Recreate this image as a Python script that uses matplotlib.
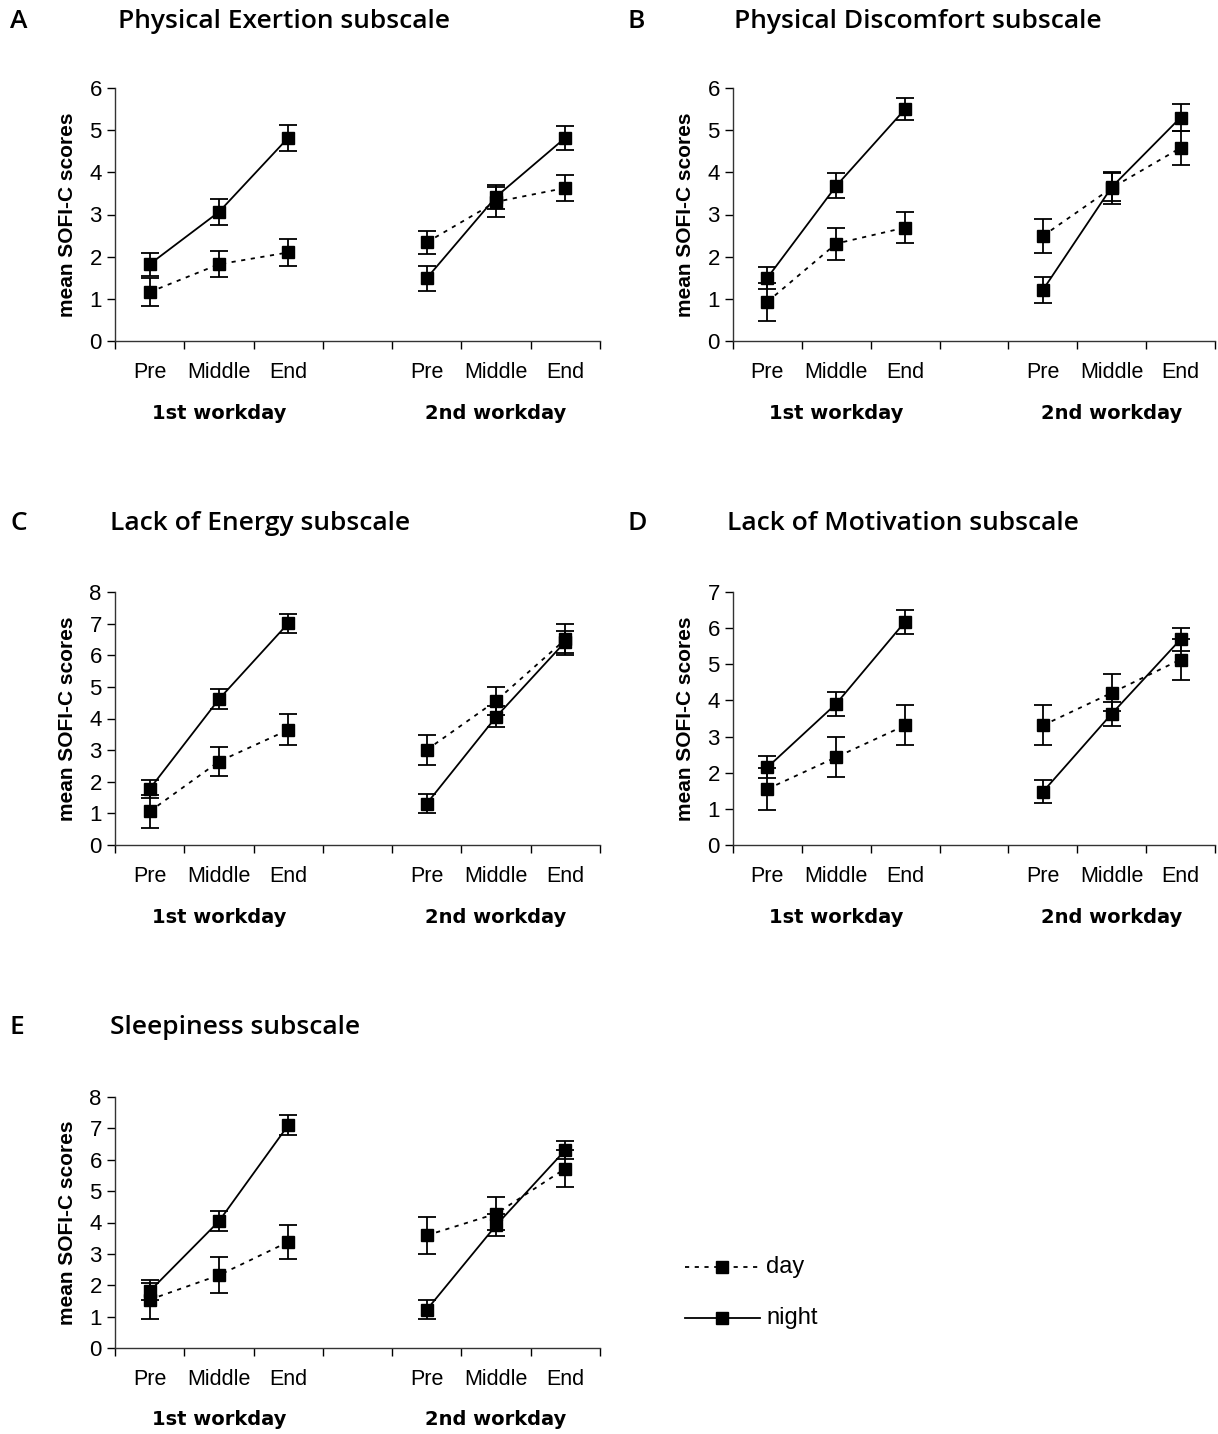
import numpy as np
import matplotlib
matplotlib.use("Agg")
import matplotlib.pyplot as plt

plt.rcParams['font.family'] = ['Liberation Sans Narrow', 'Liberation Sans', 'DejaVu Sans']
plt.rcParams['lines.scale_dashes'] = False

# x slots: 1st workday 0-2, gap, 2nd workday 4-6
x1 = [0.5, 1.5, 2.5]
x2 = [4.5, 5.5, 6.5]
tick_labels = ['Pre', 'Middle', 'End', 'Pre', 'Middle', 'End']
day_labels = ['1st workday', '2nd workday']

letters = ['A', 'B', 'C', 'D', 'E']
titles = ['Physical Exertion subscale', 'Physical Discomfort subscale',
          'Lack of Energy subscale', 'Lack of Motivation subscale',
          'Sleepiness subscale']
ymax = [6, 6, 8, 7, 8]

# means (1st Pre, Mid, End, 2nd Pre, Mid, End) and error bars
night = [
    [1.82, 3.06, 4.82, 1.49, 3.42, 4.82],
    [1.50, 3.68, 5.50, 1.21, 3.65, 5.30],
    [1.77, 4.61, 7.01, 1.31, 4.05, 6.43],
    [2.15, 3.91, 6.18, 1.47, 3.63, 5.69],
    [1.81, 4.04, 7.10, 1.22, 3.91, 6.31],
]
night_err = [
    [0.27, 0.31, 0.31, 0.30, 0.28, 0.28],
    [0.26, 0.30, 0.27, 0.30, 0.33, 0.32],
    [0.27, 0.32, 0.31, 0.31, 0.33, 0.35],
    [0.30, 0.33, 0.33, 0.32, 0.34, 0.31],
    [0.27, 0.32, 0.32, 0.30, 0.35, 0.29],
]
day = [
    [1.16, 1.82, 2.10, 2.34, 3.30, 3.63],
    [0.93, 2.31, 2.69, 2.49, 3.63, 4.58],
    [1.06, 2.64, 3.64, 3.01, 4.56, 6.50],
    [1.55, 2.43, 3.31, 3.31, 4.21, 5.13],
    [1.54, 2.32, 3.38, 3.59, 4.28, 5.72],
]
day_err = [
    [0.33, 0.31, 0.31, 0.28, 0.35, 0.31],
    [0.45, 0.38, 0.37, 0.40, 0.38, 0.41],
    [0.53, 0.47, 0.49, 0.47, 0.45, 0.48],
    [0.58, 0.55, 0.55, 0.55, 0.51, 0.57],
    [0.62, 0.57, 0.54, 0.58, 0.53, 0.60],
]

W, H = 1218, 1434
fig = plt.figure(figsize=(W / 100, H / 100), dpi=100)

# panel boxes in pixels: left, right, top, bottom
boxes = [(115, 600, 88, 341), (733, 1215, 88, 341),
         (115, 600, 592, 845), (733, 1215, 592, 845),
         (115, 600, 1097, 1348)]
head_y = [22, 22, 523, 523, 1028]
letter_x = [10, 627, 10, 627, 10]
title_x = [118, 734, 110, 727, 110]

dotted = (0, (3, 4))
mk = dict(marker='s', markersize=8.5, color='black')
eb = dict(fmt='none', ecolor='black', elinewidth=1.3, capsize=6.3, capthick=1.3)

for i in range(5):
    l, r, t, b = boxes[i]
    ax = fig.add_axes([l / W, 1 - b / H, (r - l) / W, (b - t) / H])
    d = day[i]
    n = night[i]
    for xs, sl in [(x1, slice(0, 3)), (x2, slice(3, 6))]:
        ax.errorbar(xs, d[sl], yerr=day_err[i][sl], **eb)
        ax.errorbar(xs, n[sl], yerr=night_err[i][sl], **eb)
        ax.plot(xs, d[sl], linestyle=dotted, lw=1.3, **mk)
        ax.plot(xs, n[sl], linestyle='-', lw=1.3, **mk)

    ax.set_xlim(0, 7)
    ax.set_ylim(0, ymax[i])
    ax.set_yticks(range(ymax[i] + 1))
    ax.set_xticks(range(8))
    ax.set_xticklabels([])
    ax.tick_params(axis='both', direction='out', length=6, width=1, colors='black',
                   labelsize=16)
    for s in ['top', 'right']:
        ax.spines[s].set_visible(False)
    for s in ['left', 'bottom']:
        ax.spines[s].set_linewidth(1)
        ax.spines[s].set_color('#333333')
    ax.set_ylabel('mean SOFI-C scores', fontsize=15, fontweight='bold',
                  family=['Liberation Sans'], labelpad=9)

    for xx, lab in zip(x1 + x2, tick_labels):
        ax.text(xx, -0.125, lab, transform=ax.get_xaxis_transform(),
                ha='center', va='center', fontsize=15.5)
    for xx, lab in zip([1.5, 5.5], day_labels):
        ax.text(xx, -0.285, lab, transform=ax.get_xaxis_transform(),
                ha='center', va='center', fontsize=14, fontweight='bold',
                family=['DejaVu Sans'])

    fig.text(letter_x[i] / W, 1 - head_y[i] / H, letters[i], ha='left', va='center',
             fontsize=19, fontweight='semibold', family=['Open Sans', 'Liberation Sans'])
    fig.text(title_x[i] / W, 1 - head_y[i] / H, titles[i], ha='left', va='center',
             fontsize=19, fontweight='semibold', family=['Open Sans', 'Liberation Sans'])

# legend drawn as free-standing lines in figure space
lax = fig.add_axes([0, 0, 1, 1], facecolor='none')
lax.set_xlim(0, W)
lax.set_ylim(H, 0)
lax.axis('off')
leg_names = ['day', 'night']
leg_styles = [dotted, '-']
leg_y = [1267, 1318]
for name, ls, yy in zip(leg_names, leg_styles, leg_y):
    lax.plot([685, 760], [yy, yy], linestyle=ls, lw=1.3, color='black')
    lax.plot([722], [yy], marker='s', markersize=8.5, color='black')
    lax.text(766, yy, name, ha='left', va='center', fontsize=17)

fig.savefig('out.png', dpi=100)
